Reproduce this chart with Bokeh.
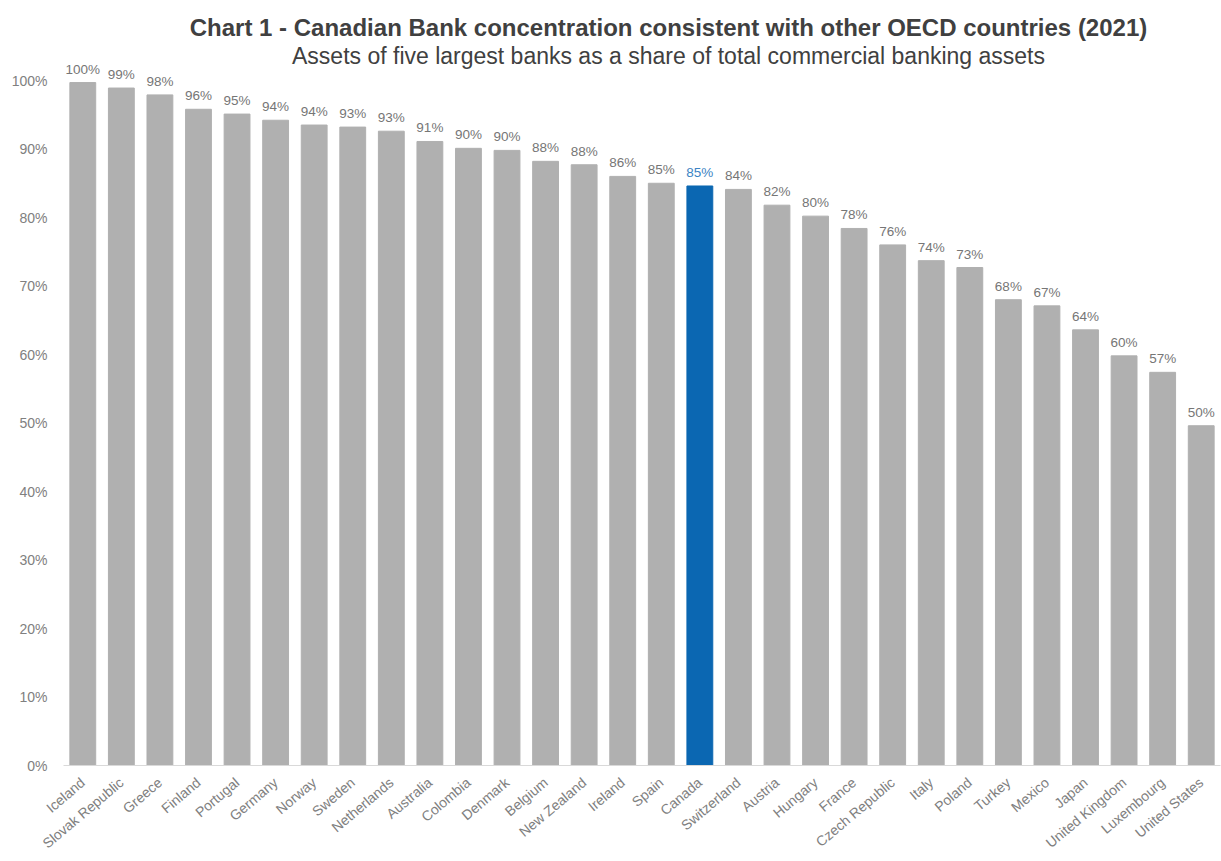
import math
from bokeh.plotting import figure
from bokeh.models import ColumnDataSource, FixedTicker, Range1d, CustomJSTickFormatter, LabelSet, Label
from bokeh.core.properties import field, value
from bokeh.embed import file_html
from bokeh.resources import INLINE

countries = ["Iceland", "Slovak Republic", "Greece", "Finland", "Portugal", "Germany", "Norway",
             "Sweden", "Netherlands", "Australia", "Colombia", "Denmark", "Belgium", "New Zealand",
             "Ireland", "Spain", "Canada", "Switzerland", "Austria", "Hungary", "France",
             "Czech Republic", "Italy", "Poland", "Turkey", "Mexico", "Japan", "United Kingdom",
             "Luxembourg", "United States"]
shares = [99.7, 98.9, 97.9, 95.8, 95.1, 94.2, 93.5, 93.2, 92.6, 91.1, 90.1, 89.8, 88.2, 87.7,
          86.0, 85.0, 84.6, 84.1, 81.8, 80.2, 78.4, 76.0, 73.7, 72.7, 68.0, 67.1, 63.6, 59.8,
          57.4, 49.6]
share_labels = ["100%", "99%", "98%", "96%", "95%", "94%", "94%", "93%", "93%", "91%", "90%", "90%",
                "88%", "88%", "86%", "85%", "85%", "84%", "82%", "80%", "78%", "76%", "74%", "73%",
                "68%", "67%", "64%", "60%", "57%", "50%"]
y_ticks = [0, 10, 20, 30, 40, 50, 60, 70, 80, 90, 100]
highlight = "Canada"
title_text = "Chart 1 - Canadian Bank concentration consistent with other OECD countries (2021)"
subtitle_text = "Assets of five largest banks as a share of total commercial banking assets"

GRAY = "#B0B0B0"
BLUE = "#0B67B2"
bar_colors = [BLUE if c == highlight else GRAY for c in countries]
label_colors = ["#3C84C4" if c == highlight else "#767676" for c in countries]

src = ColumnDataSource(dict(x=countries, y=shares, lab=share_labels, color=bar_colors, lcolor=label_colors))

FONT = "Liberation Sans"

# frame spans the full height above the axis so value labels and titles are not clipped;
# the visible scale (0-100%) is set by the fixed ticker
p = figure(x_range=countries, y_range=Range1d(0, 111.68), width=1221, height=861,
           output_backend="svg", toolbar_location=None, title=None)
p.min_border_left = 63
p.min_border_right = 1
p.min_border_bottom = 96
p.min_border_top = 0

p.vbar(x="x", top="y", width=0.67, color="color", source=src)
labels = LabelSet(x="x", y="y", text="lab", source=src, text_color=field("lcolor"),
                  text_align="center", text_baseline="alphabetic", y_offset=9,
                  text_font=value(FONT), text_font_size=value("13.5px"))
p.add_layout(labels)

# titles (screen units relative to the plot frame)
p.add_layout(Label(x=605, y=738, x_units="screen", y_units="screen", text=title_text,
                   text_align="center", text_baseline="alphabetic", text_font=FONT,
                   text_font_size="24px", text_font_style="bold", text_color="#404040"))
p.add_layout(Label(x=605, y=710, x_units="screen", y_units="screen", text=subtitle_text,
                   text_align="center", text_baseline="alphabetic", text_font=FONT,
                   text_font_size="23px", text_font_style="normal", text_color="#404040"))

p.xgrid.grid_line_color = None
p.ygrid.grid_line_color = None
p.outline_line_color = None

p.yaxis.ticker = FixedTicker(ticks=y_ticks)
p.yaxis.formatter = CustomJSTickFormatter(code="return tick.toFixed(0) + '%';")
p.yaxis.axis_line_color = None
p.yaxis.major_tick_line_color = None
p.yaxis.minor_tick_line_color = None
p.yaxis.major_label_text_font = FONT
p.yaxis.major_label_text_font_size = "14px"
p.yaxis.major_label_text_color = "#808080"
p.yaxis.major_label_standoff = 10

p.xaxis.axis_line_color = "#D9D9D9"
p.xaxis.major_tick_line_color = None
p.xaxis.minor_tick_line_color = None
p.xaxis.major_label_orientation = 0.70
p.xaxis.major_label_text_font = FONT
p.xaxis.major_label_text_font_size = "14px"
p.xaxis.major_label_text_color = "#808080"
p.xaxis.major_label_standoff = 9

open("out.html", "w").write(file_html(p, INLINE))
